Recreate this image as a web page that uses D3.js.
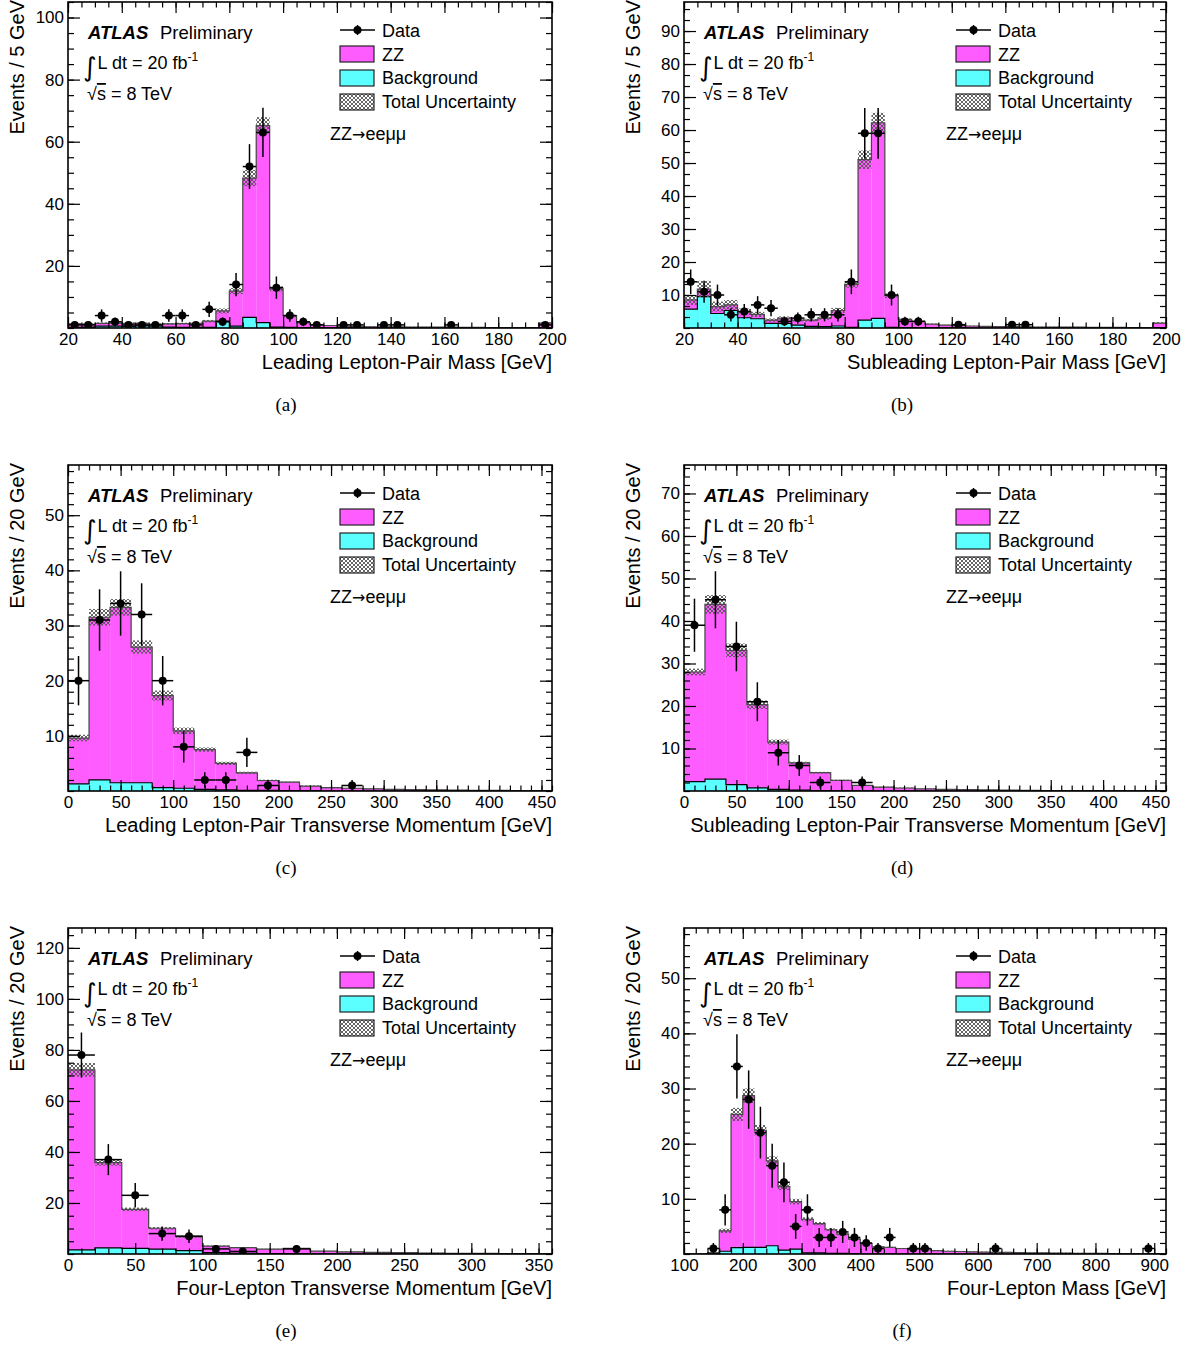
<!DOCTYPE html>
<html>
<head>
<meta charset="utf-8">
<script src="https://cdn.jsdelivr.net/npm/d3@7"></script>
<style>
  body { margin: 0; background: #fff; }
  text { font-family: "Liberation Sans", Arial, Helvetica, sans-serif; fill: #000; }
</style>
</head>
<body>
<script>
// ---- (a) leading lepton-pair mass, 5 GeV bins 20-200
var edgesA = d3.range(20, 200.1, 5);
var zzA   = [1.1,0.9,0.9,1.0,1.0,0.8,0.6,1.0,1.2,1.3,2.0,3.3,11.3,44.9,63.5,12.3,3.7,1.6,1.0,0.75,0.55,0.45,0.4,0.4,0.35,0.3,0.3,0.25,0.25,0.2,0.2,0.15,0.15,0.1,0.1,1.5];
var bkgA  = [0.2,0.3,0.6,0.6,0.5,0.7,0.6,0.3,0.2,0.2,0.2,2.2,0.6,3.4,1.7,0.3,0.2,0.1,0.1,0.05,0.05,0.05,0,0,0,0,0,0,0,0,0,0,0,0,0,0.1];
var uncA  = [0.3,0.3,0.3,0.3,0.3,0.3,0.3,0.3,0.3,0.3,0.4,0.8,1.0,2.6,2.7,0.8,0.4,0.2,0.15,0.1,0.1,0.1,0.1,0.1,0.1,0.1,0.1,0.1,0.1,0.1,0.1,0.1,0.1,0.1,0.1,0.3];
var dataA = [1,1,4,2,1,1,1,4,4,1,6,2,14,52,63,13,4,2,1,0,1,1,0,1,1,0,0,0,1,0,0,0,0,0,0,1];
var xTicksA = [20,40,60,80,100,120,140,160,180,200];
var yTicksA = [20,40,60,80,100];

// ---- (b) subleading lepton-pair mass
var edgesB = d3.range(20, 200.1, 5);
var zzB   = [2.8,2.3,2.1,1.7,1.8,1.3,1.0,1.6,1.5,1.9,2.6,4.7,13.0,48.6,59.3,9.6,2.5,1.9,1.1,0.85,0.65,0.6,0.5,0.45,0.4,0.35,0.3,0.3,0.25,0.25,0.2,0.2,0.2,0.15,0.15,1.4];
var bkgB  = [5.7,9.5,4.4,5.3,3.1,2.8,1.4,1.4,0.9,0.5,0.4,0.6,0.2,2.4,2.9,0.2,0.1,0.1,0.1,0.05,0.05,0,0,0,0,0,0,0,0,0,0,0,0,0,0,0.1];
var uncB  = [1.5,2.5,1.5,1.5,1.0,0.8,0.5,0.5,0.4,0.4,0.5,0.8,1.0,2.8,3.0,0.7,0.3,0.2,0.15,0.1,0.1,0.1,0.1,0.1,0.1,0.1,0.1,0.1,0.1,0.1,0.1,0.1,0.1,0.1,0.1,0.3];
var dataB = [14,11,10,4,5,7,6,2,3,4,4,4,14,59,59,10,2,2,0,0,1,0,0,0,1,1,0,0,0,0,0,0,0,0,0,0];
var xTicksB = [20,40,60,80,100,120,140,160,180,200];
var yTicksB = [10,20,30,40,50,60,70,80,90];

// ---- (c) leading lepton-pair pT, 20 GeV bins
var edgesC = d3.range(0, 460.1, 20);
var zzC   = [8.3,29.5,31.8,24.6,16.7,10.4,7.2,4.8,3.2,1.8,1.55,0.85,0.6,0.5,0.4,0.3,0.25,0.2,0.15,0.1,0.1,0.08,0.05];
var bkgC  = [1.3,2.0,1.5,1.5,0.6,0.5,0.3,0.2,0.1,0.1,0.05,0.05,0,0,0,0,0,0,0,0,0,0,0];
var uncC  = [0.6,1.5,1.5,1.2,0.9,0.6,0.4,0.3,0.2,0.15,0.1,0.1,0.1,0.05,0.05,0.05,0.05,0.05,0.05,0.05,0.05,0.05,0.05];
var dataC = [20,31,34,32,20,8,2,2,7,1,0,0,0,1,0,0,0,0,0,0,0,0,0];
var xTicksC = [0,50,100,150,200,250,300,350,400,450];
var yTicksC = [10,20,30,40,50];

// ---- (d) subleading lepton-pair pT
var edgesD = d3.range(0, 460.1, 20);
var zzD   = [25.8,41.1,31.6,19.55,11.1,6.4,4.2,2.45,1.25,0.9,0.7,0.5,0.4,0.3,0.25,0.2,0.15,0.1,0.1,0.08,0.05,0.05,0.03];
var bkgD  = [2.2,2.8,1.5,0.75,0.4,0.2,0.1,0.05,0.05,0,0,0,0,0,0,0,0,0,0,0,0,0,0];
var uncD  = [0.8,2.2,1.6,1.0,0.6,0.3,0.2,0.15,0.1,0.1,0.1,0.05,0.05,0.05,0.05,0.05,0.05,0.05,0.05,0.05,0.05,0.05,0.05];
var dataD = [39,45,34,21,9,6,2,0,2,0,0,0,0,0,0,0,0,0,0,0,0,0,0];
var xTicksD = [0,50,100,150,200,250,300,350,400,450];
var yTicksD = [10,20,30,40,50,60,70];

// ---- (e) four-lepton pT
var edgesE = d3.range(0, 360.1, 20);
var zzE   = [70.6,33.4,15.3,8.2,5.5,2.6,2.2,1.7,2.0,1.0,0.75,0.6,0.5,0.4,0.3,0.25,0.2,0.15];
var bkgE  = [1.6,2.4,2.2,1.9,1.3,0.5,0.3,0.2,0.2,0.1,0.05,0,0,0,0,0,0,0];
var uncE  = [2.7,1.2,0.7,0.5,0.4,0.25,0.2,0.15,0.15,0.1,0.1,0.1,0.1,0.1,0.1,0.1,0.1,0.1];
var dataE = [78,37,23,8,7,2,1,0,2,0,0,0,0,0,0,0,0,0];
var xTicksE = [0,50,100,150,200,250,300,350];
var yTicksE = [20,40,60,80,100,120];

// ---- (f) four-lepton mass
var edgesF = d3.range(100, 920.1, 20);
var zzF   = [0,0,0.1,3.7,24.15,27.5,21.2,15.4,11.5,8.6,6.1,5.3,4.3,3.5,2.65,1.9,1.3,1.2,1.0,0.9,0.9,0.6,0.5,0.45,0.4,0.35,0.3,0.3,0.25,0.2,0.2,0.15,0.15,0.1,0.1,0.1,0.08,0.08,0.05,0.05,0.05];
var bkgF  = [0,0,0.1,0.5,1.15,1.2,1.2,1.5,0.7,0.9,0.2,0.2,0.1,0.1,0.05,0,0,0,0,0,0,0,0,0,0,0,0,0,0,0,0,0,0,0,0,0,0,0,0,0,0];
var uncF  = [0,0,0.1,0.4,1.2,1.3,1.0,0.8,0.6,0.5,0.35,0.3,0.25,0.2,0.15,0.12,0.1,0.1,0.1,0.1,0.1,0.1,0.1,0.1,0.1,0.1,0.1,0.1,0.1,0.1,0.1,0.1,0.1,0.1,0.1,0.1,0.1,0.1,0.1,0.1,0.1];
var dataF = [0,0,1,8,34,28,22,16,13,5,8,3,3,4,3,2,1,3,0,1,1,0,0,0,0,0,1,0,0,0,0,0,0,0,0,0,0,0,0,1,0];
var xTicksF = [100,200,300,400,500,600,700,800,900];
var yTicksF = [10,20,30,40,50];

var svg = d3.select("body").append("svg")
    .attr("width", 1195)
    .attr("height", 1347);

var defs = svg.append("defs");
var hatch = defs.append("pattern")
    .attr("id", "xhatch")
    .attr("patternUnits", "userSpaceOnUse")
    .attr("width", 4)
    .attr("height", 4);
hatch.append("path")
    .attr("d", "M0,0L4,4M4,0L0,4")
    .attr("stroke", "#555")
    .attr("stroke-width", 0.9)
    .attr("fill", "none");

var MAGENTA = "#ff5cff", CYAN = "#5cffff";

var panels = [
  { id: "a", col: 0, row: 0, edges: edgesA, zz: zzA, bkg: bkgA, unc: uncA, data: dataA,
    xDomain: [20, 200], yDomain: [0, 105], xTicks: xTicksA, xMinor: 5, yTicks: yTicksA, yMinor: 5,
    xTitle: "Leading Lepton-Pair Mass [GeV]", yTitle: "Events / 5 GeV" },
  { id: "b", col: 1, row: 0, edges: edgesB, zz: zzB, bkg: bkgB, unc: uncB, data: dataB,
    xDomain: [20, 200], yDomain: [0, 98.8], xTicks: xTicksB, xMinor: 5, yTicks: yTicksB, yMinor: 10 / 3,
    xTitle: "Subleading Lepton-Pair Mass [GeV]", yTitle: "Events / 5 GeV" },
  { id: "c", col: 0, row: 1, edges: edgesC, zz: zzC, bkg: bkgC, unc: uncC, data: dataC,
    xDomain: [0, 460], yDomain: [0, 59.1], xTicks: xTicksC, xMinor: 10, yTicks: yTicksC, yMinor: 2,
    xTitle: "Leading Lepton-Pair Transverse Momentum [GeV]", yTitle: "Events / 20 GeV" },
  { id: "d", col: 1, row: 1, edges: edgesD, zz: zzD, bkg: bkgD, unc: uncD, data: dataD,
    xDomain: [0, 460], yDomain: [0, 76.7], xTicks: xTicksD, xMinor: 10, yTicks: yTicksD, yMinor: 2,
    xTitle: "Subleading Lepton-Pair Transverse Momentum [GeV]", yTitle: "Events / 20 GeV" },
  { id: "e", col: 0, row: 2, edges: edgesE, zz: zzE, bkg: bkgE, unc: uncE, data: dataE,
    xDomain: [0, 360], yDomain: [0, 127.8], xTicks: xTicksE, xMinor: 10, yTicks: yTicksE, yMinor: 5,
    xTitle: "Four-Lepton Transverse Momentum [GeV]", yTitle: "Events / 20 GeV" },
  { id: "f", col: 1, row: 2, edges: edgesF, zz: zzF, bkg: bkgF, unc: uncF, data: dataF,
    xDomain: [100, 920], yDomain: [0, 59.1], xTicks: xTicksF, xMinor: 20, yTicks: yTicksF, yMinor: 2,
    xTitle: "Four-Lepton Mass [GeV]", yTitle: "Events / 20 GeV" }
];

panels.forEach(drawPanel);

function minorTicks(domain, step) {
  var out = [];
  var n = Math.floor((domain[1] - domain[0]) / step + 1e-6);
  for (var i = 0; i <= n; i++) out.push(domain[0] + i * step);
  return out;
}

function drawPanel(p) {
  var ox = p.col * 616, oy = p.row * 463;
  var left = 68, top = 2, w = p.col == 0 ? 484 : 482, h = 326;
  var g = svg.append("g").attr("transform", "translate(" + ox + "," + oy + ")");

  var x = d3.scaleLinear().domain(p.xDomain).range([left, left + w]);
  var y = d3.scaleLinear().domain(p.yDomain).range([top + h, top]);

  defs.append("clipPath").attr("id", "clip" + p.id)
    .append("rect").attr("x", left).attr("y", top).attr("width", w).attr("height", h);

  var bins = p.zz.map(function(v, i) {
    return { lo: p.edges[i], hi: p.edges[i + 1], bkg: p.bkg[i], tot: v + p.bkg[i], unc: p.unc[i], n: p.data[i] };
  });

  var plot = g.append("g").attr("clip-path", "url(#clip" + p.id + ")");

  // stacked fills
  plot.selectAll("rect.zz").data(bins).enter().append("rect")
    .attr("x", function(d) { return x(d.lo); })
    .attr("width", function(d) { return x(d.hi) - x(d.lo); })
    .attr("y", function(d) { return y(d.tot); })
    .attr("height", function(d) { return y(0) - y(d.tot); })
    .attr("fill", MAGENTA);

  plot.append("path").attr("d", stepPath(bins, function(d) { return d.tot; }, x, y))
    .attr("fill", "none").attr("stroke", "#444").attr("stroke-width", 1.2);

  plot.selectAll("rect.bkg").data(bins).enter().append("rect")
    .attr("x", function(d) { return x(d.lo); })
    .attr("width", function(d) { return x(d.hi) - x(d.lo); })
    .attr("y", function(d) { return y(d.bkg); })
    .attr("height", function(d) { return y(0) - y(d.bkg); })
    .attr("fill", CYAN);

  plot.append("path").attr("d", stepPath(bins, function(d) { return d.bkg; }, x, y))
    .attr("fill", "none").attr("stroke", "#000").attr("stroke-width", 1.2);

  // uncertainty band
  plot.selectAll("rect.unc").data(bins.filter(function(d) { return d.unc > 0 && d.tot > 0; })).enter().append("rect")
    .attr("x", function(d) { return x(d.lo); })
    .attr("width", function(d) { return x(d.hi) - x(d.lo); })
    .attr("y", function(d) { return y(d.tot + d.unc); })
    .attr("height", function(d) { return y(Math.max(d.tot - d.unc, 0)) - y(d.tot + d.unc); })
    .attr("fill", "url(#xhatch)");

  // data points
  var pts = plot.selectAll("g.pt").data(bins.filter(function(d) { return d.n > 0; })).enter().append("g");
  pts.append("line")
    .attr("x1", function(d) { return x((d.lo + d.hi) / 2); })
    .attr("x2", function(d) { return x((d.lo + d.hi) / 2); })
    .attr("y1", function(d) { return y(d.n + Math.sqrt(d.n)); })
    .attr("y2", function(d) { return y(Math.max(d.n - Math.sqrt(d.n), 0)); })
    .attr("stroke", "#000").attr("stroke-width", 1.5);
  pts.append("line")
    .attr("x1", function(d) { return x(d.lo); })
    .attr("x2", function(d) { return x(d.hi); })
    .attr("y1", function(d) { return y(d.n); })
    .attr("y2", function(d) { return y(d.n); })
    .attr("stroke", "#000").attr("stroke-width", 1.5);
  pts.append("circle")
    .attr("cx", function(d) { return x((d.lo + d.hi) / 2); })
    .attr("cy", function(d) { return y(d.n); })
    .attr("r", 4).attr("fill", "#000");

  // axes, ticks inside on all four sides
  var xm = minorTicks(p.xDomain, p.xMinor);
  var ym = minorTicks(p.yDomain, p.yMinor);

  g.append("g").attr("transform", "translate(0," + (top + h) + ")")
    .call(d3.axisBottom(x).tickValues(p.xTicks).tickSize(-11).tickPadding(5).tickFormat(d3.format("d")));
  g.append("g").attr("transform", "translate(0," + (top + h) + ")")
    .call(d3.axisBottom(x).tickValues(xm).tickSize(-5.5).tickFormat(""));
  g.append("g").attr("transform", "translate(0," + top + ")")
    .call(d3.axisTop(x).tickValues(p.xTicks).tickSize(-11).tickFormat(""));
  g.append("g").attr("transform", "translate(0," + top + ")")
    .call(d3.axisTop(x).tickValues(xm).tickSize(-5.5).tickFormat(""));

  g.append("g").attr("transform", "translate(" + left + ",0)")
    .call(d3.axisLeft(y).tickValues(p.yTicks).tickSize(-12).tickPadding(4).tickFormat(d3.format("d")));
  g.append("g").attr("transform", "translate(" + left + ",0)")
    .call(d3.axisLeft(y).tickValues(ym).tickSize(-6).tickFormat(""));
  g.append("g").attr("transform", "translate(" + (left + w) + ",0)")
    .call(d3.axisRight(y).tickValues(p.yTicks).tickSize(-12).tickFormat(""));
  g.append("g").attr("transform", "translate(" + (left + w) + ",0)")
    .call(d3.axisRight(y).tickValues(ym).tickSize(-6).tickFormat(""));

  g.selectAll(".domain").remove();
  g.selectAll(".tick line").attr("stroke", "#000").attr("stroke-width", 1.2);
  g.selectAll(".tick text").attr("font-size", 17).attr("font-family", "Liberation Sans, Arial, sans-serif").attr("fill", "#000");

  g.append("rect").attr("x", left).attr("y", top).attr("width", w).attr("height", h)
    .attr("fill", "none").attr("stroke", "#000").attr("stroke-width", 1.6);

  // axis titles
  g.append("text").attr("x", left + w).attr("y", 369).attr("text-anchor", "end")
    .attr("font-size", 20).text(p.xTitle);
  g.append("text").attr("transform", "translate(24," + (top - 2) + ") rotate(-90)")
    .attr("text-anchor", "end").attr("font-size", 20).text(p.yTitle);

  // caption
  g.append("text").attr("x", 286).attr("y", 411).attr("text-anchor", "middle")
    .attr("font-size", 19).style("font-family", "'Liberation Serif', 'Times New Roman', serif")
    .text("(" + p.id + ")");

  // ATLAS label
  var lab = g.append("text").attr("x", left + 20).attr("y", 38.5).attr("font-size", 18.5);
  lab.append("tspan").attr("font-weight", "bold").attr("font-style", "italic").text("ATLAS");
  lab.append("tspan").attr("x", left + 92).text("Preliminary");

  // integral sign followed by the luminosity, flowing in one text element
  var lumi = g.append("text").attr("x", left + 15).attr("y", 76).attr("font-size", 18);
  lumi.append("tspan").attr("font-size", 26).style("font-family", "'DejaVu Sans', sans-serif").text("\u222B");
  lumi.append("tspan").attr("dx", 1).attr("dy", -7.5).text("L dt = 20 fb");
  lumi.append("tspan").attr("font-size", 12).attr("dy", -8).text("-1");

  var rs = g.append("text").attr("x", left + 19).attr("y", 100).attr("font-size", 18);
  rs.append("tspan").text("\u221A");
  rs.append("tspan").style("text-decoration", "overline").text("s");
  rs.append("tspan").text(" = 8 TeV");

  // legend
  var lx = left + 272;
  g.append("line").attr("x1", lx).attr("x2", lx + 35).attr("y1", 30).attr("y2", 30)
    .attr("stroke", "#000").attr("stroke-width", 1.5);
  g.append("line").attr("x1", lx + 17.5).attr("x2", lx + 17.5).attr("y1", 25).attr("y2", 35)
    .attr("stroke", "#000").attr("stroke-width", 1.5);
  g.append("circle").attr("cx", lx + 17.5).attr("cy", 30).attr("r", 4).attr("fill", "#000");

  var boxes = [
    { y: 46, fill: MAGENTA, label: "ZZ" },
    { y: 70, fill: CYAN, label: "Background" },
    { y: 94, fill: "url(#xhatch)", label: "Total Uncertainty" }
  ];
  g.selectAll("rect.leg").data(boxes).enter().append("rect")
    .attr("x", lx).attr("y", function(d) { return d.y; })
    .attr("width", 34).attr("height", 16)
    .attr("fill", function(d) { return d.fill; })
    .attr("stroke", "#222").attr("stroke-width", 1.2);

  var legTexts = [["Data", 36.5], ["ZZ", 61], ["Background", 84], ["Total Uncertainty", 107.5]];
  legTexts.forEach(function(t) {
    g.append("text").attr("x", left + 314).attr("y", t[1]).attr("font-size", 18).text(t[0]);
  });

  var ch = g.append("text").attr("x", left + 262).attr("y", 140).attr("font-size", 18);
  ch.append("tspan").text("ZZ");
  ch.append("tspan").style("font-family", "'DejaVu Sans', sans-serif").attr("font-size", 16).text("\u2192");
  ch.append("tspan").text("ee\u03BC\u03BC");
}

function stepPath(bins, val, x, y) {
  var pth = d3.path();
  pth.moveTo(x(bins[0].lo), y(0));
  bins.forEach(function(d) {
    pth.lineTo(x(d.lo), y(val(d)));
    pth.lineTo(x(d.hi), y(val(d)));
  });
  pth.lineTo(x(bins[bins.length - 1].hi), y(0));
  return pth.toString();
}
</script>
</body>
</html>
